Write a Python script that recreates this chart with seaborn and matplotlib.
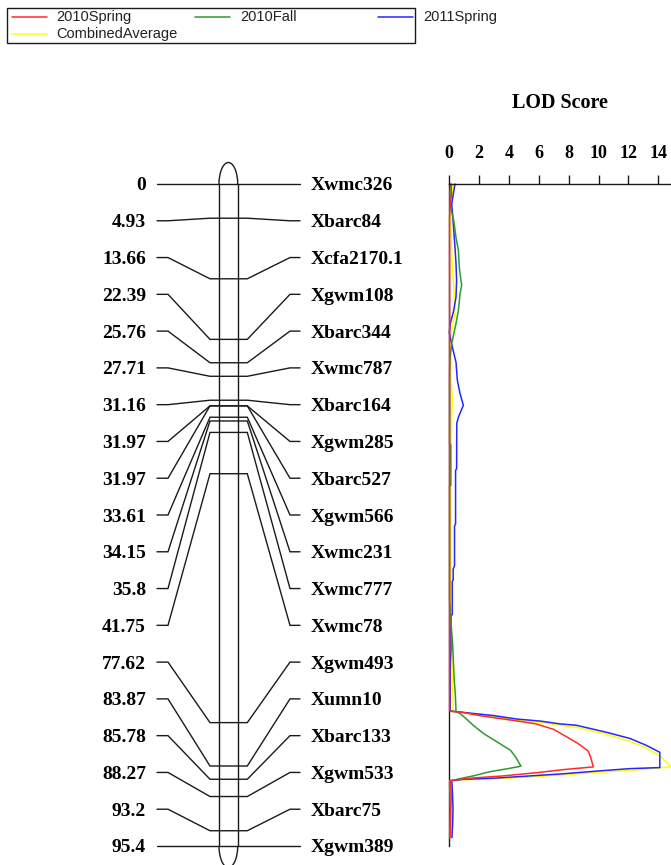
import numpy as np
import pandas as pd
import matplotlib
matplotlib.use("Agg")
import matplotlib.pyplot as plt
from matplotlib.patches import Arc, Rectangle
from matplotlib.lines import Line2D
import seaborn as sns

# ---------------------------------------------------------------------------
# Linkage map: markers and their map positions (cM)
# ---------------------------------------------------------------------------
markers = ["Xwmc326", "Xbarc84", "Xcfa2170.1", "Xgwm108", "Xbarc344", "Xwmc787",
           "Xbarc164", "Xgwm285", "Xbarc527", "Xgwm566", "Xwmc231", "Xwmc777",
           "Xwmc78", "Xgwm493", "Xumn10", "Xbarc133", "Xgwm533", "Xbarc75",
           "Xgwm389"]
positions = [0, 4.93, 13.66, 22.39, 25.76, 27.71, 31.16, 31.97, 31.97, 33.61,
             34.15, 35.8, 41.75, 77.62, 83.87, 85.78, 88.27, 93.2, 95.4]
position_labels = ["0", "4.93", "13.66", "22.39", "25.76", "27.71", "31.16",
                   "31.97", "31.97", "33.61", "34.15", "35.8", "41.75", "77.62",
                   "83.87", "85.78", "88.27", "93.2", "95.4"]

# ---------------------------------------------------------------------------
# LOD profiles along the chromosome (position in cM, LOD score)
# ---------------------------------------------------------------------------
spring2010_pos = [0, 1.5, 3, 5, 10, 20, 30, 40, 50, 60,
                  70, 75.9, 76.0, 76.1, 76.6, 77.0, 77.4, 77.8, 78.6, 79.6,
                  80.6, 81.7, 82.5, 84.0, 84.4, 84.8, 85.3, 85.6, 85.95, 86.3,
                  88.3, 90.3, 92.3, 94.2]
spring2010_lod = [0.12, 0.15, 0.05, 0.02, 0.02, 0.02, 0.02, 0.02, 0.02, 0.02,
                  0.02, 0.02, 0.1, 0.8, 2.0, 3.3, 4.6, 5.8, 7.0, 7.8,
                  8.6, 9.3, 9.45, 9.65, 7.6, 6.0, 3.6, 1.6, 0.1, 0.1,
                  0.12, 0.1, 0.08, 0.05]

fall2010_pos = [0, 1, 3, 5.3, 7.7, 9.6, 12, 13.9, 14.6, 15.8,
                18.2, 20.1, 21.6, 23, 25, 27, 37.5, 37.6, 43.4, 43.5,
                60, 62.5, 64.3, 66.2, 69.6, 71.5, 73.4, 75.9, 76.0, 76.3,
                77.2, 78.0, 79.2, 80.4, 81.6, 82.6, 83.9, 84.3, 84.7, 85.3,
                85.7, 86.0, 86.3, 88.3, 90.3, 92.3, 94.2]
fall2010_lod = [0.1, 0.05, 0.05, 0.3, 0.45, 0.61, 0.67, 0.78, 0.83, 0.72,
                0.61, 0.45, 0.3, 0.16, 0.05, 0.02, 0.02, 0.1, 0.1, 0.02,
                0.02, 0.1, 0.15, 0.22, 0.29, 0.33, 0.4, 0.45, 0.4, 0.72,
                1.2, 1.6, 2.3, 3.2, 4.1, 4.45, 4.8, 3.8, 2.7, 1.6,
                0.7, 0.15, 0.02, 0.04, 0.05, 0.04, 0.02]

spring2011_pos = [0, 2.9, 4.3, 6.7, 9.1, 11.5, 13.9, 16.3, 18.2, 20.1,
                  21.4, 22.5, 24.0, 25.7, 28.3, 30.2, 31.9, 33.6, 34.5, 41.0,
                  41.3, 49.0, 49.3, 55.0, 55.5, 57.0, 57.3, 62.0, 62.3, 67.0,
                  69.0, 75.9, 76.0, 76.3, 76.6, 77.1, 77.4, 77.8, 78.0, 79.0,
                  79.9, 80.9, 81.9, 84.1, 84.25, 84.6, 85.0, 85.3, 85.6, 85.8,
                  86.0, 86.3, 88.3, 90.3, 92.3, 94.2]
spring2011_lod = [0.38, 0.16, 0.22, 0.3, 0.38, 0.45, 0.49, 0.45, 0.3, 0.07,
                  0.0, 0.1, 0.26, 0.45, 0.54, 0.72, 0.94, 0.61, 0.5, 0.49,
                  0.42, 0.42, 0.35, 0.35, 0.26, 0.26, 0.2, 0.2, 0.11, 0.11,
                  0.07, 0.06, 0.27, 1.6, 2.95, 4.5, 6.1, 7.4, 8.5, 10.5,
                  12.1, 13.2, 14.1, 14.1, 12.1, 9.9, 7.6, 5.4, 3.2, 0.9,
                  0.1, 0.18, 0.22, 0.25, 0.22, 0.18]

combined_pos = [0, 1.5, 3, 6, 9, 12, 14.5, 17, 18.6, 20,
                22, 24, 26, 28, 31, 34, 40, 50, 60, 66.7,
                70, 74.9, 75.9, 76.0, 76.4, 76.7, 77.3, 77.6, 78.0, 78.3,
                79.3, 80.3, 81.3, 82.4, 84.0, 84.5, 84.8, 85.15, 85.45, 85.7,
                85.85, 86.0, 86.3, 88.3, 90.3, 92.3, 94.2]
combined_lod = [0.25, 0.22, 0.12, 0.1, 0.15, 0.2, 0.3, 0.33, 0.38, 0.25,
                0.1, 0.1, 0.15, 0.12, 0.2, 0.15, 0.12, 0.1, 0.08, 0.15,
                0.2, 0.25, 0.25, 0.2, 1.6, 2.95, 4.5, 6.1, 7.4, 8.5,
                10.5, 12.1, 13.2, 14.1, 14.85, 12.1, 9.9, 7.6, 5.4, 3.2,
                0.9, 0.05, 0.12, 0.16, 0.18, 0.15, 0.12]

lod_ticks = [0, 2, 4, 6, 8, 10, 12, 14]

series_names = ["2010Spring", "2010Fall", "2011Spring", "CombinedAverage"]
series_colors = {"2010Spring": "#ff2a2a", "2010Fall": "#2e9b2e",
                 "2011Spring": "#2626ff", "CombinedAverage": "#ffff00"}

frames = []
for name, pos, lod in [("2010Spring", spring2010_pos, spring2010_lod),
                       ("2010Fall", fall2010_pos, fall2010_lod),
                       ("2011Spring", spring2011_pos, spring2011_lod),
                       ("CombinedAverage", combined_pos, combined_lod)]:
    frames.append(pd.DataFrame({"Position": pos, "LOD": lod, "Series": name}))
lod_df = pd.concat(frames, ignore_index=True)

# ---------------------------------------------------------------------------
# Figure set-up
# ---------------------------------------------------------------------------
sns.set_style("white")
plt.rcParams["font.family"] = ["Liberation Serif", "DejaVu Serif"]

W, H = 671, 865
fig = plt.figure(figsize=(W / 100, H / 100), dpi=100)
fig.patch.set_facecolor("white")

top_px, bottom_px = 184, 846       # vertical extent of the map (0 .. 95.4 cM)
lod0_px = 449.3                     # left edge of the LOD panel
map_len = 95.4

# overlay in pixel units for the legend box and the panel title
ax_over = fig.add_axes([0, 0, 1, 1])
ax_over.set_xlim(0, W)
ax_over.set_ylim(H, 0)
ax_over.axis("off")

ax_map = fig.add_axes([0, 1 - bottom_px / H, lod0_px / W, (bottom_px - top_px) / H])
ax_map.set_xlim(0, lod0_px)
ax_map.set_ylim(map_len, 0)
ax_map.axis("off")

ax_lod = fig.add_axes([lod0_px / W, 1 - bottom_px / H, 1 - lod0_px / W,
                       (bottom_px - top_px) / H])

ink = "#1a1a1a"
lw = 1.0

# ---------------------------------------------------------------------------
# Chromosome drawing
# ---------------------------------------------------------------------------
bar_l, bar_r = 219.0, 237.7
tick_l, tick_r = 210.0, 247.3
lab_l0, lab_l1 = 157.0, 168.0
lab_r1, lab_r0 = 290.0, 300.0
cap_h = 2 * 21.5 / ((bottom_px - top_px) / map_len)   # cap height in cM units

ax_map.plot([bar_l, bar_l], [0, map_len], color=ink, lw=lw)
ax_map.plot([bar_r, bar_r], [0, map_len], color=ink, lw=lw)
cx = (bar_l + bar_r) / 2
ax_map.add_patch(Arc((cx, 0), bar_r - bar_l, cap_h, theta1=180, theta2=360,
                     color=ink, lw=lw, clip_on=False))
ax_map.add_patch(Arc((cx, map_len), bar_r - bar_l, cap_h, theta1=0, theta2=180,
                     color=ink, lw=lw, clip_on=False))

rows = np.linspace(0, map_len, len(markers))
for row, pos, name, plab in zip(rows, positions, markers, position_labels):
    ax_map.plot([lab_l0, lab_l1, tick_l, tick_r, lab_r1, lab_r0],
                [row, row, pos, pos, row, row], color=ink, lw=lw,
                solid_joinstyle="miter", clip_on=False)
    ax_map.text(146, row, plab, ha="right", va="center_baseline", fontsize=14,
                fontweight="bold", color="black", clip_on=False)
    ax_map.text(311, row, name, ha="left", va="center_baseline", fontsize=14,
                fontweight="bold", color="black", clip_on=False)

# ---------------------------------------------------------------------------
# LOD profiles
# ---------------------------------------------------------------------------
draw_order = ["CombinedAverage", "2011Spring", "2010Fall", "2010Spring"]
sns.lineplot(data=lod_df, x="LOD", y="Position", hue="Series",
             hue_order=draw_order, palette=series_colors, orient="y",
             sort=False, estimator=None, errorbar=None, legend=False,
             linewidth=1.1, ax=ax_lod)
for line in ax_lod.lines:
    line.set_clip_on(False)

ax_lod.set_xlim(0, (W - lod0_px) / 14.93)
ax_lod.set_ylim(map_len, 0)
ax_lod.set_facecolor("none")
ax_lod.set_xlabel("")
ax_lod.set_ylabel("")
ax_lod.set_yticks([])
ax_lod.xaxis.tick_top()
ax_lod.set_xticks(lod_ticks)
ax_lod.set_xticklabels([str(t) for t in lod_ticks])
ax_lod.tick_params(axis="x", which="both", direction="out", length=6.5,
                   width=1.0, color=ink, pad=9, labelsize=13,
                   labelcolor="black")
for lab in ax_lod.get_xticklabels():
    lab.set_fontweight("bold")
for side in ["right", "bottom"]:
    ax_lod.spines[side].set_visible(False)
for side in ["top", "left"]:
    ax_lod.spines[side].set_visible(True)
    ax_lod.spines[side].set_color(ink)
    ax_lod.spines[side].set_linewidth(1.0)
ax_lod.spines["left"].set_zorder(0.5)

ax_over.text(560, 102.5, "LOD Score", ha="center", va="center", fontsize=14.5,
             fontweight="bold", color="black")

# ---------------------------------------------------------------------------
# Legend
# ---------------------------------------------------------------------------
ax_over.add_patch(Rectangle((7, 7.5), 408, 35, fill=False, edgecolor=ink,
                            lw=1.0))
legend_slots = [(11.7, 17.3), (195.0, 17.3), (378.0, 17.3), (11.7, 34.0)]
for name, (lx, ly) in zip(series_names, legend_slots):
    ax_over.add_line(Line2D([lx, lx + 35], [ly, ly], color=series_colors[name],
                            lw=1.1))
    ax_over.text(lx + 45, ly, name, ha="left", va="center", fontsize=10.5,
                 family=["Liberation Sans", "DejaVu Sans"], color="#222222")

fig.savefig("out.png", dpi=100, facecolor="white")
